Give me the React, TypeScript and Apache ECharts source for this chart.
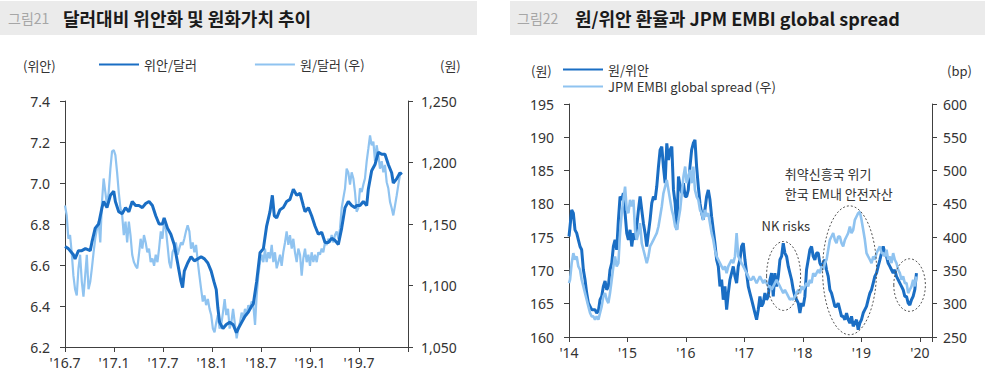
import React, { useEffect, useRef } from 'react';
import * as echarts from 'echarts';

// ---------- Left chart: months since Jul 2016 ----------
const LEFT_X_TICKS = ["'16.7", "'17.1", "'17.7", "'18.1", "'18.7", "'19.1", "'19.7", ''];
const CNY_USD_NAME = '위안/달러';
const KRW_USD_NAME = '원/달러 (우)';

const cnyUsd: [number, number][] = [
  [0.0, 6.69], [0.41, 6.68], [1.03, 6.65], [1.23, 6.63], [1.65, 6.67], [2.06, 6.67], [2.5, 6.68], [3.09, 6.67],
  [3.29, 6.71], [3.7, 6.78], [4.12, 6.8], [4.53, 6.88], [4.73, 6.91], [5.14, 6.88], [5.56, 6.94], [5.97, 6.96],
  [6.17, 6.91], [6.58, 6.86], [7.0, 6.85], [7.41, 6.88], [7.82, 6.86], [8.23, 6.91], [8.64, 6.89], [9.05, 6.89],
  [9.47, 6.88], [9.88, 6.9], [10.29, 6.91], [10.7, 6.89], [11.11, 6.84], [11.52, 6.8], [11.93, 6.8], [12.14, 6.83],
  [12.55, 6.78], [12.96, 6.75], [13.37, 6.7], [13.79, 6.61], [14.2, 6.52], [14.4, 6.49], [14.61, 6.57], [15.02, 6.61],
  [15.43, 6.64], [15.84, 6.62], [16.26, 6.63], [16.67, 6.64], [17.08, 6.63], [17.49, 6.61], [17.9, 6.57], [18.23, 6.52],
  [18.52, 6.48], [18.72, 6.39], [18.93, 6.32], [19.34, 6.29], [19.75, 6.31], [20.16, 6.32], [20.58, 6.31], [20.99, 6.27],
  [21.22, 6.29], [21.63, 6.32], [22.04, 6.35], [22.45, 6.37], [22.86, 6.4], [23.06, 6.41], [23.47, 6.52], [23.88, 6.66],
  [24.29, 6.68], [24.69, 6.79], [25.1, 6.86], [25.39, 6.94], [25.63, 6.84], [25.92, 6.83], [26.33, 6.87], [26.73, 6.88],
  [27.14, 6.91], [27.55, 6.92], [27.96, 6.97], [28.37, 6.94], [28.78, 6.95], [29.18, 6.89], [29.39, 6.86], [29.8, 6.88],
  [30.2, 6.84], [30.61, 6.79], [31.02, 6.75], [31.43, 6.76], [31.84, 6.71], [32.24, 6.71], [32.65, 6.73], [33.06, 6.72],
  [33.47, 6.7], [33.88, 6.78], [34.29, 6.88], [34.69, 6.91], [35.1, 6.89], [35.51, 6.88], [35.71, 6.89], [36.12, 6.89],
  [36.53, 6.91], [36.94, 6.89], [37.14, 6.97], [37.55, 7.06], [37.96, 7.09], [38.37, 7.15], [38.78, 7.14], [39.18, 7.14],
  [39.59, 7.09], [40.0, 7.05], [40.2, 7.0], [40.61, 7.02], [41.02, 7.05], [41.22, 7.04],
];

const krwUsd: [number, number][] = [
  [0.0, 1165], [0.21, 1157], [0.41, 1138], [0.62, 1141], [0.82, 1127], [1.03, 1108], [1.23, 1097], [1.44, 1092],
  [1.65, 1114], [1.85, 1125], [2.06, 1103], [2.26, 1091], [2.47, 1108], [2.67, 1125], [2.88, 1097], [3.09, 1103],
  [3.29, 1114], [3.5, 1127], [3.7, 1138], [3.91, 1146], [4.12, 1152], [4.32, 1135], [4.53, 1168], [4.73, 1187],
  [4.94, 1176], [5.14, 1165], [5.35, 1176], [5.56, 1195], [5.76, 1209], [5.97, 1210], [6.17, 1206], [6.38, 1192],
  [6.58, 1176], [6.79, 1163], [7.0, 1157], [7.2, 1141], [7.41, 1152], [7.61, 1135], [7.82, 1152], [8.02, 1141],
  [8.23, 1125], [8.44, 1119], [8.64, 1116], [8.85, 1114], [9.05, 1125], [9.26, 1138], [9.47, 1130], [9.67, 1141],
  [9.88, 1135], [10.08, 1127], [10.29, 1130], [10.49, 1119], [10.7, 1122], [10.91, 1116], [11.11, 1125], [11.32, 1119],
  [11.52, 1130], [11.73, 1144], [11.93, 1138], [12.14, 1152], [12.35, 1146], [12.55, 1133], [12.76, 1119], [12.96, 1114],
  [13.17, 1127], [13.37, 1130], [13.58, 1135], [13.79, 1125], [13.99, 1130], [14.2, 1135], [14.4, 1133], [14.61, 1138],
  [14.81, 1144], [15.02, 1149], [15.23, 1144], [15.43, 1130], [15.64, 1135], [15.84, 1127], [16.05, 1133], [16.26, 1119],
  [16.46, 1108], [16.67, 1097], [16.87, 1087], [17.08, 1092], [17.28, 1084], [17.49, 1089], [17.7, 1081], [17.9, 1076],
  [18.11, 1065], [18.31, 1062], [18.52, 1070], [18.72, 1076], [18.93, 1065], [19.13, 1068], [19.34, 1078], [19.55, 1089],
  [19.75, 1076], [19.96, 1081], [20.16, 1065], [20.37, 1070], [20.58, 1081], [20.78, 1070], [21.02, 1057], [21.22, 1065],
  [21.43, 1070], [21.63, 1078], [21.84, 1073], [22.04, 1081], [22.24, 1076], [22.45, 1084], [22.65, 1081], [22.86, 1087],
  [23.06, 1084], [23.27, 1068], [23.47, 1092], [23.67, 1108], [23.88, 1119], [24.08, 1125], [24.29, 1119], [24.49, 1130],
  [24.69, 1119], [24.9, 1127], [25.1, 1122], [25.31, 1133], [25.51, 1119], [25.71, 1127], [25.92, 1114], [26.12, 1119],
  [26.33, 1125], [26.53, 1116], [26.73, 1127], [26.94, 1135], [27.14, 1144], [27.35, 1133], [27.55, 1141], [27.76, 1130],
  [27.96, 1138], [28.16, 1127], [28.37, 1119], [28.57, 1130], [28.78, 1125], [28.98, 1108], [29.18, 1122], [29.39, 1130],
  [29.59, 1119], [29.8, 1125], [30.0, 1116], [30.2, 1127], [30.41, 1119], [30.61, 1125], [30.82, 1119], [31.02, 1127],
  [31.22, 1125], [31.43, 1130], [31.63, 1127], [31.84, 1135], [32.04, 1133], [32.24, 1138], [32.45, 1135], [32.65, 1141],
  [32.86, 1135], [33.06, 1141], [33.27, 1144], [33.47, 1138], [33.67, 1146], [33.88, 1163], [34.08, 1171], [34.29, 1179],
  [34.49, 1195], [34.69, 1192], [34.9, 1182], [35.1, 1192], [35.31, 1187], [35.51, 1176], [35.71, 1160], [35.92, 1163],
  [36.12, 1179], [36.33, 1176], [36.53, 1182], [36.73, 1187], [36.94, 1201], [37.14, 1211], [37.35, 1222], [37.55, 1214],
  [37.76, 1217], [37.96, 1201], [38.16, 1214], [38.37, 1206], [38.57, 1195], [38.78, 1201], [38.98, 1192], [39.18, 1198],
  [39.39, 1184], [39.59, 1179], [39.8, 1168], [40.0, 1163], [40.2, 1157], [40.41, 1165], [40.61, 1173], [40.82, 1182],
  [41.02, 1190], [41.22, 1192],
];

// ---------- Right chart: months since Jan 2014 ----------
const RIGHT_X_TICKS = ["'14", "'15", "'16", "'17", "'18", "'19", "'20"];
const KRW_CNY_NAME = '원/위안';
const EMBI_NAME = 'JPM EMBI global spread (우)';

const krwCny: [number, number][] = [
  [0.0, 175.1], [0.21, 176.6], [0.55, 179.1], [0.89, 178.6], [1.23, 176.1], [1.58, 175.6], [1.92, 174.6], [2.26, 173.6],
  [2.6, 173.1], [2.95, 170.1], [3.29, 168.6], [3.63, 166.6], [3.97, 165.1], [4.32, 164.6], [4.66, 164.1], [5.0, 164.1],
  [5.34, 164.1], [5.68, 163.6], [6.03, 163.9], [6.37, 165.6], [6.71, 166.1], [7.05, 167.6], [7.4, 168.4], [7.74, 167.1],
  [8.08, 167.6], [8.42, 170.1], [8.77, 171.1], [9.11, 173.6], [9.45, 174.6], [9.79, 173.1], [10.14, 177.6], [10.48, 181.1],
  [10.82, 180.6], [11.16, 181.6], [11.51, 178.6], [11.85, 175.6], [12.19, 174.6], [12.53, 176.1], [12.88, 173.6], [13.22, 175.6],
  [13.56, 174.6], [13.9, 176.6], [14.25, 179.1], [14.59, 181.1], [14.93, 179.1], [15.27, 177.1], [15.62, 175.6], [15.96, 173.6],
  [16.3, 175.6], [16.64, 177.6], [16.99, 180.1], [17.33, 181.1], [17.67, 180.6], [18.01, 182.6], [18.36, 185.6], [18.7, 188.1],
  [19.04, 188.6], [19.38, 185.6], [19.73, 183.1], [20.07, 189.1], [20.41, 186.6], [20.75, 188.1], [21.1, 188.6], [21.44, 182.1],
  [21.78, 180.1], [22.12, 176.1], [22.47, 184.1], [22.81, 182.6], [23.15, 181.6], [23.49, 183.1], [23.84, 181.1], [24.14, 181.1],
  [24.48, 182.1], [24.83, 185.6], [25.17, 188.1], [25.51, 189.1], [25.85, 189.6], [26.19, 185.6], [26.54, 182.6], [26.88, 180.1],
  [27.22, 178.6], [27.56, 177.6], [27.9, 179.1], [28.24, 181.1], [28.59, 182.1], [28.93, 180.6], [29.27, 178.1], [29.61, 176.1],
  [29.95, 174.1], [30.3, 171.6], [30.64, 170.6], [30.98, 167.6], [31.32, 168.6], [31.66, 165.6], [32.01, 167.6], [32.35, 164.1],
  [32.69, 166.6], [33.03, 168.6], [33.37, 169.6], [33.71, 170.6], [34.06, 169.1], [34.4, 168.1], [34.74, 170.6], [35.08, 171.6],
  [35.42, 173.6], [35.77, 174.1], [36.11, 171.6], [36.45, 169.6], [36.79, 167.6], [37.13, 166.6], [37.48, 165.6], [37.82, 164.6],
  [38.16, 163.6], [38.5, 162.6], [38.84, 164.1], [39.18, 166.1], [39.53, 164.6], [39.87, 165.1], [40.21, 166.6], [40.55, 165.6],
  [40.89, 166.1], [41.24, 168.6], [41.58, 169.6], [41.92, 166.1], [42.26, 169.6], [42.6, 167.6], [42.95, 169.1], [43.29, 171.6],
  [43.63, 172.1], [43.97, 174.1], [44.31, 172.6], [44.66, 172.1], [45.0, 170.6], [45.34, 169.6], [45.68, 168.6], [46.02, 167.1],
  [46.36, 166.1], [46.71, 165.6], [47.05, 165.1], [47.39, 163.6], [47.73, 165.1], [48.07, 164.6], [48.41, 166.1], [48.75, 170.1],
  [49.1, 171.6], [49.44, 173.1], [49.78, 173.6], [50.12, 172.1], [50.46, 171.6], [50.8, 172.6], [51.15, 172.6], [51.49, 171.1],
  [51.83, 170.6], [52.17, 171.1], [52.51, 171.6], [52.85, 170.1], [53.2, 169.1], [53.54, 167.1], [53.88, 166.6], [54.22, 165.6],
  [54.56, 164.6], [54.91, 164.6], [55.25, 165.1], [55.59, 164.1], [55.93, 163.1], [56.27, 163.1], [56.62, 162.6], [56.96, 163.6],
  [57.3, 162.6], [57.64, 162.1], [57.98, 163.1], [58.33, 161.6], [58.67, 162.1], [59.01, 162.6], [59.35, 161.1], [59.69, 162.1],
  [60.03, 162.6], [60.38, 163.6], [60.72, 164.1], [61.06, 164.6], [61.4, 165.6], [61.75, 166.6], [62.09, 167.1], [62.43, 168.1],
  [62.77, 169.1], [63.11, 169.6], [63.45, 170.6], [63.8, 171.6], [64.14, 172.6], [64.48, 173.6], [64.82, 172.6], [65.17, 172.1],
  [65.5, 171.1], [65.85, 170.6], [66.19, 170.1], [66.53, 169.6], [66.87, 170.1], [67.21, 169.1], [67.56, 168.6], [67.9, 168.1],
  [68.24, 167.6], [68.58, 167.1], [68.92, 166.1], [69.27, 166.1], [69.61, 165.1], [69.95, 164.8], [70.29, 165.6], [70.63, 166.1],
  [70.97, 167.1], [71.31, 169.6],
];

const embiSpread: [number, number][] = [
  [0.0, 331], [0.21, 336], [0.55, 361], [0.89, 376], [1.23, 366], [1.58, 371], [1.92, 356], [2.26, 351],
  [2.6, 336], [2.95, 326], [3.29, 316], [3.63, 306], [3.97, 296], [4.32, 286], [4.66, 281], [5.0, 281],
  [5.34, 276], [5.68, 281], [6.03, 276], [6.37, 286], [6.71, 296], [7.05, 311], [7.4, 316], [7.74, 306],
  [8.08, 301], [8.42, 316], [8.77, 336], [9.11, 356], [9.45, 371], [9.79, 356], [10.14, 361], [10.48, 406],
  [10.82, 436], [11.16, 456], [11.51, 476], [11.85, 441], [12.19, 436], [12.53, 456], [12.88, 446], [13.22, 456],
  [13.56, 411], [13.9, 396], [14.25, 406], [14.59, 421], [14.93, 391], [15.27, 381], [15.62, 371], [15.96, 361],
  [16.3, 371], [16.64, 386], [16.99, 391], [17.33, 396], [17.67, 401], [18.01, 406], [18.36, 416], [18.7, 431],
  [19.04, 446], [19.38, 466], [19.73, 476], [20.07, 486], [20.41, 471], [20.75, 456], [21.1, 441], [21.44, 431],
  [21.78, 416], [22.12, 411], [22.47, 426], [22.81, 441], [23.15, 466], [23.49, 491], [23.84, 506], [24.14, 481],
  [24.48, 491], [24.83, 501], [25.17, 481], [25.51, 506], [25.85, 471], [26.19, 461], [26.54, 456], [26.88, 441],
  [27.22, 436], [27.56, 426], [27.9, 441], [28.24, 431], [28.59, 436], [28.93, 421], [29.27, 406], [29.61, 396],
  [29.95, 381], [30.3, 371], [30.64, 366], [30.98, 361], [31.32, 356], [31.66, 351], [32.01, 356], [32.35, 346],
  [32.69, 356], [33.03, 361], [33.37, 366], [33.71, 361], [34.06, 371], [34.4, 406], [34.74, 371], [35.08, 366],
  [35.42, 361], [35.77, 356], [36.11, 351], [36.45, 346], [36.79, 341], [37.13, 336], [37.48, 336], [37.82, 341],
  [38.16, 336], [38.5, 331], [38.84, 336], [39.18, 341], [39.53, 336], [39.87, 331], [40.21, 336], [40.55, 331],
  [40.89, 326], [41.24, 326], [41.58, 321], [41.92, 326], [42.26, 331], [42.6, 336], [42.95, 331], [43.29, 326],
  [43.63, 321], [43.97, 316], [44.31, 321], [44.66, 316], [45.0, 311], [45.34, 306], [45.68, 308], [46.02, 306],
  [46.36, 311], [46.71, 316], [47.05, 321], [47.39, 316], [47.73, 326], [48.07, 321], [48.41, 326], [48.75, 331],
  [49.09, 326], [49.44, 336], [49.78, 331], [50.12, 346], [50.46, 341], [50.8, 346], [51.15, 351], [51.49, 346],
  [51.83, 356], [52.17, 351], [52.51, 361], [52.86, 366], [53.2, 381], [53.54, 396], [53.88, 401], [54.22, 406],
  [54.56, 396], [54.9, 391], [55.25, 401], [55.59, 401], [55.93, 391], [56.27, 386], [56.62, 396], [56.96, 401],
  [57.3, 406], [57.64, 416], [57.98, 406], [58.33, 411], [58.67, 426], [59.01, 431], [59.35, 436], [59.69, 438],
  [60.03, 426], [60.38, 411], [60.72, 396], [61.06, 376], [61.4, 371], [61.75, 366], [62.09, 361], [62.43, 371],
  [62.77, 366], [63.11, 376], [63.45, 381], [63.8, 386], [64.14, 376], [64.48, 376], [64.82, 371], [65.17, 381],
  [65.5, 366], [65.85, 371], [66.19, 361], [66.53, 376], [66.87, 366], [67.21, 361], [67.56, 351], [67.9, 346],
  [68.24, 336], [68.58, 341], [68.92, 331], [69.27, 331], [69.61, 316], [69.95, 321], [70.29, 326], [70.63, 336],
  [70.97, 326], [71.31, 341],
];

// Annotations (data units of right chart: [month, 원/위안])
const ELLIPSES: { c: [number, number]; rx: number; ry: number }[] = [
  { c: [44.04, 169.17], rx: 3.49, ry: 5.18 },
  { c: [57.58, 170.02], rx: 5.54, ry: 9.68 },
  { c: [69.9, 167.8], rx: 3.24, ry: 3.95 },
];
const NOTES: { text: string; at: [number, number]; align: 'left' | 'center' }[] = [
  { text: 'NK risks', at: [44.5, 176.7], align: 'center' },
  { text: '취약신흥국 위기', at: [44.3, 184.6], align: 'left' },
  { text: '한국 EM내 안전자산', at: [44.3, 181.6], align: 'left' },
];

const DARK = '#1a6ec4';
const LIGHT = '#8fc3f0';
const AXIS = '#404040';
const TXT = '#333333';
const FF = "'Noto Sans', 'Noto Sans CJK KR', sans-serif";
const KF = "'Noto Sans CJK KR', sans-serif";

const yAxisBase = (gridIndex: number, position: 'left' | 'right', margin: number) => ({
  type: 'value' as const,
  gridIndex,
  position,
  axisLine: { show: true, lineStyle: { color: AXIS, width: 1 } },
  axisTick: { show: true, inside: false, length: 5, lineStyle: { color: AXIS } },
  splitLine: { show: false },
  axisLabel: { color: TXT, fontSize: 14, fontFamily: FF, margin },
});

const xAxisBase = (gridIndex: number) => ({
  type: 'value' as const,
  gridIndex,
  axisLine: { show: true, onZero: false, lineStyle: { color: AXIS, width: 1 } },
  axisTick: { show: true, inside: false, length: 5, lineStyle: { color: AXIS } },
  splitLine: { show: false },
});

const staticGraphics = [
  { type: 'rect', shape: { x: 0, y: 1, width: 477, height: 34 }, style: { fill: '#ebebeb' } },
  { type: 'rect', shape: { x: 510, y: 1, width: 475, height: 34 }, style: { fill: '#ebebeb' } },
  { type: 'text', x: 8, y: 18, style: { text: '그림21', fill: '#a6a6a6', fontSize: 14, fontFamily: KF, verticalAlign: 'middle' } },
  { type: 'text', x: 63, y: 18, style: { text: '달러대비 위안화 및 원화가치 추이', fill: '#1a1a1a', fontSize: 18, fontWeight: 'bold', fontFamily: KF, verticalAlign: 'middle' } },
  { type: 'text', x: 517, y: 18, style: { text: '그림22', fill: '#a6a6a6', fontSize: 14, fontFamily: KF, verticalAlign: 'middle' } },
  { type: 'text', x: 575, y: 18, style: { text: '원/위안 환율과 JPM EMBI global spread', fill: '#1a1a1a', fontSize: 18, fontWeight: 'bold', fontFamily: KF, verticalAlign: 'middle' } },
  { type: 'text', x: 23, y: 65, style: { text: '(위안)', fill: TXT, fontSize: 13, fontFamily: KF, verticalAlign: 'middle' } },
  { type: 'text', x: 440, y: 65, style: { text: '(원)', fill: TXT, fontSize: 13, fontFamily: KF, verticalAlign: 'middle' } },
  { type: 'text', x: 531, y: 70, style: { text: '(원)', fill: TXT, fontSize: 13, fontFamily: KF, verticalAlign: 'middle' } },
  { type: 'text', x: 947, y: 70, style: { text: '(bp)', fill: TXT, fontSize: 13, fontFamily: KF, verticalAlign: 'middle' } },
];

const legendCommon = {
  itemWidth: 40,
  itemHeight: 14,
  itemStyle: { opacity: 0 },
  textStyle: { color: TXT, fontSize: 13, fontFamily: KF },
};

const option: any = {
  animation: false,
  backgroundColor: '#ffffff',
  grid: [
    { left: 65, right: 592, top: 101, bottom: 28 },
    { left: 569, right: 68, top: 104, bottom: 38 },
  ],
  legend: [
    { ...legendCommon, data: [CNY_USD_NAME, KRW_USD_NAME], left: 93, top: 53, itemGap: 57 },
    { ...legendCommon, data: [KRW_CNY_NAME, EMBI_NAME], orient: 'vertical', left: 557, top: 58, itemGap: 4 },
  ],
  xAxis: [
    {
      ...xAxisBase(0), min: 0, max: 42, interval: 6,
      axisLabel: { color: TXT, fontSize: 14, fontFamily: FF, margin: 8, formatter: (v: number) => (v % 6 === 0 ? LEFT_X_TICKS[v / 6] ?? '' : '') },
    },
    {
      ...xAxisBase(1), min: 0, max: 74.5, interval: 12,
      axisLabel: { color: TXT, fontSize: 14, fontFamily: FF, margin: 8, formatter: (v: number) => (v % 12 === 0 ? RIGHT_X_TICKS[v / 12] ?? '' : '') },
    },
  ],
  yAxis: [
    { ...yAxisBase(0, 'left', 15), min: 6.2, max: 7.4, interval: 0.2, axisLabel: { ...yAxisBase(0, 'left', 15).axisLabel, formatter: (v: number) => v.toFixed(1) } },
    { ...yAxisBase(0, 'right', 13), min: 1050, max: 1250, interval: 50, axisLabel: { ...yAxisBase(0, 'right', 13).axisLabel, formatter: (v: number) => v.toLocaleString('en-US') } },
    { ...yAxisBase(1, 'left', 15), min: 160, max: 195, interval: 5 },
    { ...yAxisBase(1, 'right', 11), min: 250, max: 600, interval: 50 },
  ],
  series: [
    {
      name: KRW_USD_NAME, type: 'line', xAxisIndex: 0, yAxisIndex: 1, data: krwUsd,
      symbol: 'none', showSymbol: false, lineStyle: { color: LIGHT, width: 2.2 }, itemStyle: { color: LIGHT }, z: 2,
    },
    {
      name: CNY_USD_NAME, type: 'line', xAxisIndex: 0, yAxisIndex: 0, data: cnyUsd,
      symbol: 'none', showSymbol: false, lineStyle: { color: DARK, width: 3 }, itemStyle: { color: DARK }, z: 3,
    },
    {
      name: KRW_CNY_NAME, type: 'line', xAxisIndex: 1, yAxisIndex: 2, data: krwCny,
      symbol: 'none', showSymbol: false, lineStyle: { color: DARK, width: 3 }, itemStyle: { color: DARK }, z: 2,
    },
    {
      name: EMBI_NAME, type: 'line', xAxisIndex: 1, yAxisIndex: 3, data: embiSpread,
      symbol: 'none', showSymbol: false, lineStyle: { color: LIGHT, width: 2.6 }, itemStyle: { color: LIGHT }, z: 3,
    },
  ],
  graphic: staticGraphics,
};

export default function App() {
  const ref = useRef<HTMLDivElement>(null);
  useEffect(() => {
    if (!ref.current) return;
    const chart = echarts.init(ref.current, undefined, { renderer: 'svg' });
    chart.setOption(option);
    const toPx = (p: [number, number]) => chart.convertToPixel({ seriesIndex: 2 }, p) as number[];
    const ann: any[] = [];
    ELLIPSES.forEach((e) => {
      const c = toPx(e.c);
      const r = toPx([e.c[0] + e.rx, e.c[1] + e.ry]);
      ann.push({
        type: 'ellipse',
        shape: { cx: c[0], cy: c[1], rx: Math.abs(r[0] - c[0]), ry: Math.abs(c[1] - r[1]) },
        style: { fill: 'none', stroke: '#555', lineWidth: 1, lineDash: [2, 2] },
        z: 10,
      });
    });
    NOTES.forEach((n) => {
      const p = toPx(n.at);
      ann.push({
        type: 'text', x: p[0], y: p[1], z: 10,
        style: { text: n.text, fill: TXT, fontSize: 13, fontFamily: KF, align: n.align, verticalAlign: 'middle' },
      });
    });
    chart.setOption({ graphic: [...staticGraphics, ...ann] });
    return () => chart.dispose();
  }, []);
  return (
    <div
      ref={ref}
      style={{ position: 'absolute', left: 0, top: 0, width: 1000, height: 375, background: '#fff' }}
    />
  );
}
